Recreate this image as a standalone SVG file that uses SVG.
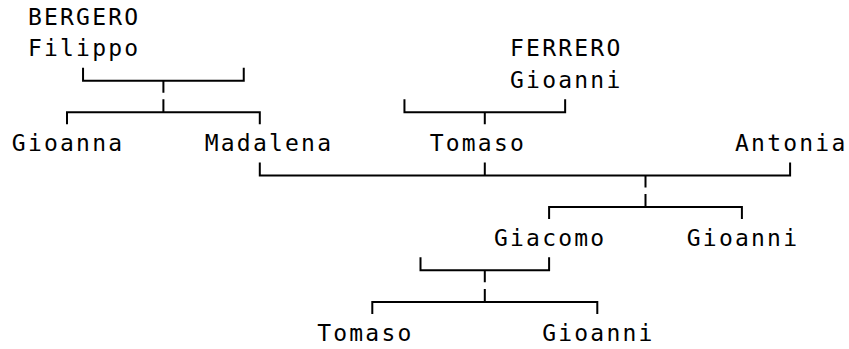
<svg xmlns="http://www.w3.org/2000/svg" width="849" height="349" viewBox="0 0 849 349">
<style>
text{font-family:"DejaVu Sans Mono","Liberation Mono",monospace;font-size:23px;letter-spacing:2.22px;fill:#000}
.c{fill:none;stroke:#000;stroke-width:2;stroke-linecap:butt}
</style>
<rect width="849" height="349" fill="#fff"/>
<g id="connectors" class="c">
<path class="c" d="M83.05,67.7V80.7H243.75V67.7M163.4,80.7V92.7"/>
<path class="c" d="M67,124.3V112.3H259.8V124.3M163.4,99.3V112.3"/>
<path class="c" d="M404.45,99.3V112.3H565.15V99.3M484.8,112.3V124.3"/>
<path class="c" d="M259.8,162.5V175.5H790.1V162.5M484.8,162.5V175.5M645.5,175.5V187.5"/>
<path class="c" d="M549.1,219.1V207.1H741.9V219.1M645.5,194.1V207.1"/>
<path class="c" d="M420.5,257.3V270.3H549.1V257.3M484.8,270.3V282.3"/>
<path class="c" d="M372.3,313.9V301.9H597.3V313.9M484.8,288.9V301.9"/>
</g>
<g id="bergero-filippo"><text x="27.92" y="24.5">BERGERO</text><text x="27.92" y="56.1">Filippo</text></g>
<g id="ferrero-gioanni"><text x="510.02" y="56.1">FERRERO</text><text x="510.02" y="87.7">Gioanni</text></g>
<g id="gioanna"><text x="11.85" y="150.9">Gioanna</text></g>
<g id="madalena"><text x="204.69" y="150.9">Madalena</text></g>
<g id="tomaso-1"><text x="429.67" y="150.9">Tomaso</text></g>
<g id="antonia"><text x="735.0" y="150.9">Antonia</text></g>
<g id="giacomo"><text x="493.95" y="245.7">Giacomo</text></g>
<g id="gioanni-2"><text x="686.79" y="245.7">Gioanni</text></g>
<g id="tomaso-2"><text x="317.18" y="340.5">Tomaso</text></g>
<g id="gioanni-3"><text x="542.16" y="340.5">Gioanni</text></g>
</svg>
